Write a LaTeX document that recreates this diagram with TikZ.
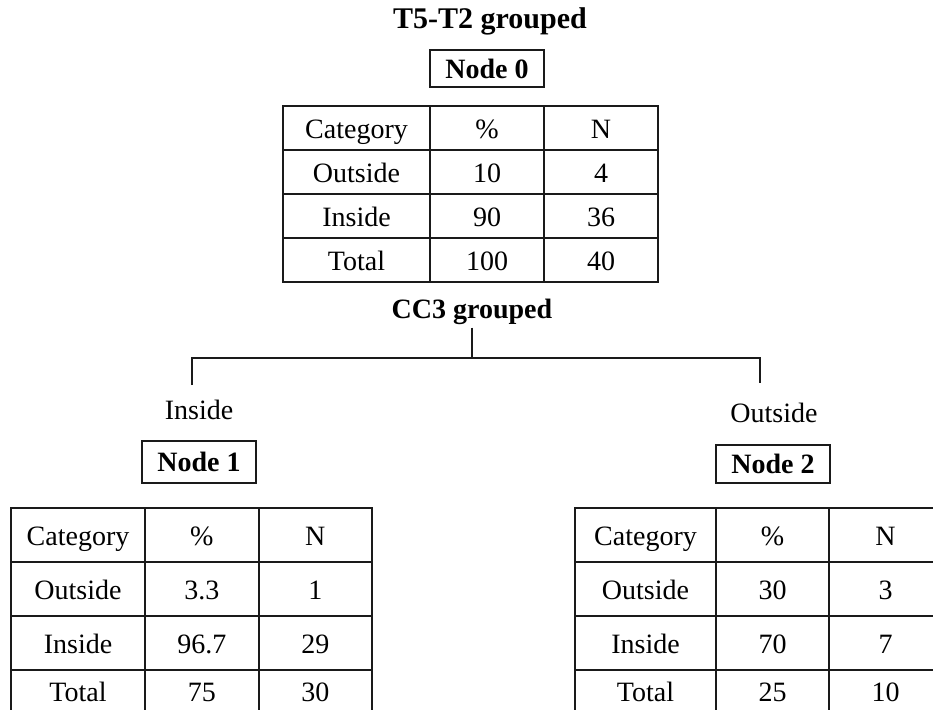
\documentclass[tikz,border=0pt]{standalone}
\usepackage{fontspec}
\setmainfont{Liberation Serif}
\usepackage{xcolor}
\definecolor{rulecolor}{HTML}{1A1A1A}
\usepackage{tikz}
\usetikzlibrary{math}

\begin{document}
\begin{tikzpicture}[x=0.5pt, y=-0.5pt]

    \tikzset{%
        every node/.style={font=\fontsize{14}{16}\selectfont},
        headlabel/.style={font=\fontsize{14}{16}\selectfont\bfseries, anchor=base, inner sep=1.5pt},
        branchlabel/.style={anchor=base},
        nodebox/.style={draw=rulecolor, line width=1pt, font=\fontsize{14}{16}\selectfont\bfseries, minimum width=57pt, inner sep=0pt},
        branch/.style={draw=rulecolor, line width=0.75pt},
        gridline/.style={draw=rulecolor, line width=1pt},
        lastrow/.store in=\hlast,
        lastrow=44,
        pics/cattable/.style args={#1/#2/#3/#4/#5/#6/#7/#8/#9}{%
                code={%

                        \tikzmath{%
                            \wcat=#1;
                            \wnum=#2;
                            \hrow=#3;
                            \wtab=\wcat+2*\wnum;
                            \htab=3*\hrow+\hlast;
                        };

                        \draw [gridline] (0, 0) rectangle ({\wtab}, {\htab});
                        \foreach \r in {1, ..., 3} {%
                                \draw [gridline] (0, {\r*\hrow}) -- ++({\wtab}, 0);
                            }
                        \draw [gridline] ({\wcat}, 0) -- ++(0, {\htab});
                        \draw [gridline] ({\wcat+\wnum}, 0) -- ++(0, {\htab});
                        \foreach \txt [count=\r from 0] in {Category, Outside, Inside} {%
                                \node [anchor=base] (cat\r) at ({\wcat/2}, {(\r+0.5)*\hrow+10}) {\txt};
                            }
                        \node [anchor=base] (cat3) at ({\wcat/2}, {3*\hrow+\hlast/2+10}) {Total};
                        \node [anchor=base] (pct0) at ({\wcat+\wnum/2}, {0.5*\hrow+10}) {\%};
                        \node [anchor=base] (num0) at ({\wcat+1.5*\wnum}, {0.5*\hrow+10}) {N};
                        \foreach \pc/\nn [count=\r] in {#4/#5, #6/#7} {%
                                \node [anchor=base] (pct\r) at ({\wcat+\wnum/2}, {(\r+0.5)*\hrow+10}) {\pc};
                                \node [anchor=base] (num\r) at ({\wcat+1.5*\wnum}, {(\r+0.5)*\hrow+10}) {\nn};
                            }
                        \node [anchor=base] (pct3) at ({\wcat+\wnum/2}, {3*\hrow+\hlast/2+10}) {#8};
                        \node [anchor=base] (num3) at ({\wcat+1.5*\wnum}, {3*\hrow+\hlast/2+10}) {#9};

                    }
            }
    }

    \useasboundingbox (0, 0) rectangle (933, 709);
    \clip (0, 0) rectangle (933, 709);

    \node [headlabel, font=\fontsize{15}{17}\selectfont\bfseries] (title) at (490, 28) {T5-T2 grouped};
    \node [nodebox, minimum height=18.5pt] (node0) at (487, 68.5) {Node 0};
    \pic (root) at (283, 106) {cattable=147/114/44/10/4/90/36/100/40};

    \node [headlabel] (cc3) at (472, 318) {CC3 grouped};
    \node [branchlabel] (inside) at (199, 419) {Inside};
    \node [branchlabel] (outside) at (774, 422) {Outside};
    \node [nodebox, minimum height=21pt] (node1) at (199, 462) {Node 1};
    \node [nodebox, minimum height=19pt] (node2) at (773, 464) {Node 2};
    \pic [lastrow=43] (left) at (11, 508) {cattable=134/113.5/54/3.3/1/96.7/29/75/30};
    \pic [lastrow=43] (right) at (575, 508) {cattable=141/113/54/30/3/70/7/25/10};

    \coordinate (fork) at (472, 358);
    \coordinate (insidetip) at (192, 385);
    \coordinate (outsidetip) at (760, 383);
    \draw [branch] (cc3.south) -- (fork);
    \draw [branch] (insidetip) |- (fork) -| (outsidetip);

\end{tikzpicture}
\end{document}
